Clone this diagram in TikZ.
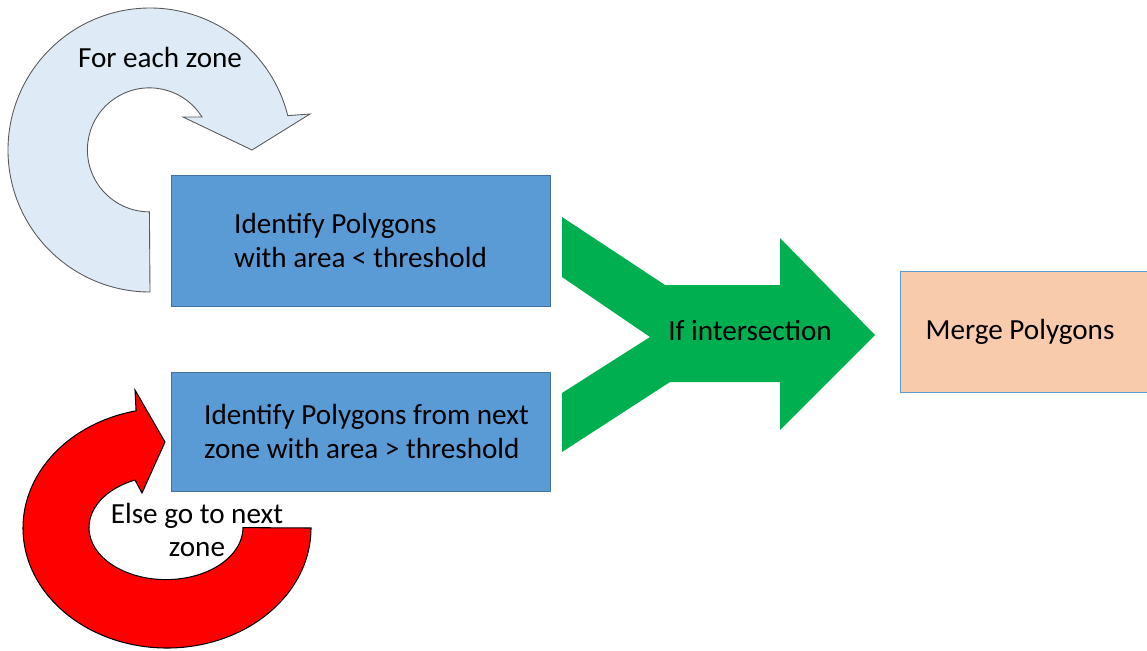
\documentclass[tikz,border=0pt]{standalone}
\usepackage{fontspec}
\setmainfont{Carlito}
\usetikzlibrary{positioning, calc}
\definecolor{boxblue}{HTML}{5B9BD5}
\definecolor{boxline}{HTML}{41719C}
\definecolor{mergefill}{HTML}{F8CBAD}
\definecolor{loopfill}{HTML}{DEEBF7}
\definecolor{loopline}{HTML}{595959}
\definecolor{passgreen}{HTML}{00B050}
\tikzset{
  box/.style={draw=boxline, fill=boxblue, line width=0.5pt, align=left,
    inner sep=0pt, font=\fontsize{16.6}{19.3}\selectfont},
  label/.style={font=\fontsize{16.6}{19.3}\selectfont, inner sep=0pt}
}
\begin{document}
\begin{tikzpicture}[x=0.02cm, y=-0.02cm]
                \useasboundingbox (0,0) rectangle (1147,650);
                % loop over the zones
                \draw[draw=loopline, fill=loopfill, line width=0.5pt]
                  (150,292) arc[start angle=90, end angle=346, radius=142]
                  -- (310,114) -- (252,150) -- (183,117) -- (202,117)
                  arc[start angle=328, end angle=90, radius=62] -- cycle;
                \node[label] (each) at (160,57) {For each zone};
                % go to the next zone
                \draw[draw=black, fill=red, line width=0.6pt]
                  (311,528) arc[start angle=0, end angle=257.6, x radius=144, y radius=120]
                  -- (135,390) -- (165,442) -- (142,493) -- (135,480)
                  arc[start angle=246.3, end angle=0, x radius=77, y radius=52] -- cycle;
                \node[label, align=center] (next) at (197,530) {Else go to next\\zone};
                % the boxes
                \node[box, minimum width=7.58cm, minimum height=2.62cm] (small) at (360.5,240.5)
                  {Identify Polygons\\with area < threshold};
                \node[box, minimum width=7.58cm, minimum height=2.38cm] (large) at (360.5,431.5)
                  {\hspace*{0.24cm}Identify Polygons from next\\\hspace*{0.24cm}zone with area > threshold};
                \node[box, draw=boxblue, fill=mergefill, minimum width=5cm, minimum height=2.42cm]
                  (merge) at (1025,332) {Merge Polygons\hspace*{0.2cm}};
                % the joining arrow
                \fill[passgreen] (562,217) -- (665,285) -- (780,285) -- (780,238) -- (875,335)
                  -- (780,430) -- (780,382) -- (670,382) -- (562,452) -- (562,393)
                  -- (650,337) -- (562,277) -- cycle;
                \node[label] (cross) at (750,331) {If intersection};
            \end{tikzpicture}
\end{document}
